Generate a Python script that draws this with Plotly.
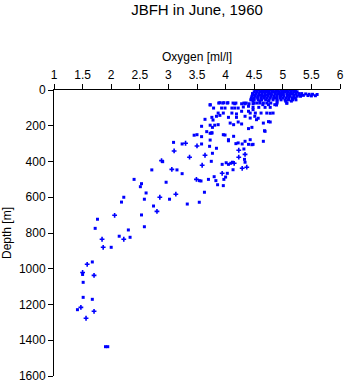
import plotly.graph_objects as go

title_text = "JBFH in June, 1960"
x_title = "Oxygen [ml/l]"
y_title = "Depth [m]"
x_ticks = [1, 1.5, 2, 2.5, 3, 3.5, 4, 4.5, 5, 5.5, 6]
x_tick_labels = ["1", "1.5", "2", "2.5", "3", "3.5", "4", "4.5", "5", "5.5", "6"]
y_ticks = [0, 200, 400, 600, 800, 1000, 1200, 1400, 1600]

# Samples drawn as squares: oxygen [ml/l], depth [m]
oxy_sq = [
    # surface cluster
    4.52, 4.58, 4.63, 4.68, 4.72, 4.77, 4.83, 4.88, 4.92, 4.97, 5.02, 5.07, 5.12, 5.18,
    4.55, 4.66, 4.74, 4.81, 4.90, 4.99, 5.05, 5.15, 5.22,
    4.50, 4.55, 4.61, 4.66, 4.71, 4.76, 4.82, 4.87, 4.93, 4.98, 5.03, 5.09, 5.14, 5.20, 5.25,
    4.47, 4.53, 4.58, 4.64, 4.69, 4.75, 4.80, 4.86, 4.91, 4.96, 5.01, 5.07, 5.12, 5.17, 5.23, 5.28, 5.33, 5.40, 5.46, 5.52, 5.60,
    4.50, 4.60, 4.70, 4.80, 4.90, 5.00, 5.10, 5.20, 5.29, 5.36, 5.44, 5.50, 5.57,
    4.46, 4.52, 4.57, 4.63, 4.68, 4.74, 4.79, 4.85, 4.90, 4.96, 5.02, 5.08, 5.13, 5.19, 5.25, 5.31,
    4.45, 4.50, 4.56, 4.62, 4.67, 4.72, 4.78, 4.84, 4.89, 4.95, 5.00, 5.06, 5.11, 5.17, 5.22,
    4.44, 4.50, 4.57, 4.63, 4.70, 4.76, 4.83, 4.90, 4.97, 5.04, 5.10, 5.17, 5.23,
    4.48, 4.60, 4.75, 4.90, 5.05, 5.15,
    # upper layer
    3.88, 3.95, 4.03, 4.13, 4.18, 4.32, 4.36, 4.50, 4.55, 4.60, 4.66, 4.72, 4.79, 4.90, 5.07,
    3.73, 3.90, 3.97, 4.04, 4.16, 4.28, 4.34, 4.41, 4.48, 4.46,
    3.79, 3.93, 3.99, 4.11, 4.16, 4.22, 4.31, 4.40,
    3.87, 3.96, 4.11, 4.19, 4.28, 4.40, 4.48,
    3.84, 3.90, 4.05, 4.19, 4.34, 4.43,
    3.58, 3.73, 3.87, 4.08, 4.14, 4.22, 4.28, 4.40, 4.46,
    3.50, 3.76, 3.96, 4.05, 4.14, 4.22, 4.34, 4.43, 4.46,
    4.65, 4.75, 4.86, 4.48, 4.58, 4.69, 4.78,
    4.43, 4.52, 4.62, 4.72, 4.83, 4.51, 4.57, 4.54, 4.66, 4.78, 4.69,
    5.07, 4.89, 4.78, 4.75, 4.68,
    3.73, 3.76, 3.77, 3.73, 3.64, 3.78, 3.81, 3.67, 3.76, 3.99, 3.58, 3.73,
    # middle layer
    3.58, 3.72, 3.84, 4.05, 4.18, 4.29, 4.40, 4.48, 4.66, 4.32, 3.77,
    3.75, 4.01, 3.94, 4.05, 4.03, 3.80, 4.00, 3.70, 3.83, 3.97, 3.86, 3.96, 3.63,
    4.33, 4.34, 4.09, 4.12, 4.13, 3.57,
    # deep samples
    3.45, 3.09, 3.24, 2.90, 2.71, 3.15, 3.24, 2.40, 3.54, 2.53, 2.96, 2.51, 2.61,
    2.22, 2.58, 3.02, 2.18, 2.74, 3.33, 3.54, 2.53, 1.76, 2.58, 1.72, 2.30,
    2.14, 2.33, 2.00, 1.67, 1.50, 1.51, 1.51, 1.67, 1.41, 1.90, 1.94,
]
depth_sq = [
    0, 0, 0, 0, 0, 0, 0, 0, 0, 0, 0, 0, 0, 0,
    5, 5, 5, 5, 5, 5, 5, 5, 5,
    10, 10, 10, 10, 10, 10, 10, 10, 10, 10, 10, 10, 10, 10, 10,
    20, 20, 20, 20, 20, 20, 20, 20, 20, 20, 20, 20, 20, 20, 20, 20, 20, 22, 24, 24, 25,
    28, 28, 28, 28, 28, 28, 28, 28, 28, 30, 31, 33, 32,
    35, 35, 35, 35, 35, 35, 35, 35, 35, 35, 35, 35, 35, 35, 35, 35,
    45, 45, 45, 45, 45, 45, 45, 45, 45, 45, 45, 45, 45, 45, 45,
    55, 55, 55, 55, 55, 55, 55, 55, 55, 55, 55, 55, 55,
    62, 62, 62, 62, 62, 62,
    73, 73, 73, 73, 73, 73, 73, 73, 73, 73, 73, 73, 73, 73, 73,
    82, 71, 71, 71, 77, 77, 77, 77, 77, 54,
    101, 101, 101, 101, 101, 101, 95, 91,
    129, 129, 129, 134, 119, 119, 110,
    147, 142, 153, 153, 147, 157,
    203, 197, 194, 185, 194, 179, 190, 216, 209,
    250, 241, 250, 278, 259, 296, 287, 278, 306,
    82, 82, 82, 97, 97, 97, 97,
    129, 129, 129, 129, 129, 147, 158, 166, 185, 179, 231,
    74, 84, 130, 177, 228,
    84, 153, 209, 242, 164, 168, 197, 233, 239, 252, 261, 280,
    302, 315, 326, 284, 300, 302, 304, 304, 287, 330, 354,
    399, 407, 416, 416, 466, 485, 487, 500, 507, 500, 530, 535, 572,
    388, 404, 410, 404, 446, 509,
    253, 293, 302, 401, 447, 447, 468, 500, 507, 524, 516, 541, 576,
    600, 611, 611, 627, 649, 638, 628, 699, 723, 765, 774, 783,
    818, 824, 880, 962, 1032, 1076, 1160, 1171, 1229, 1436, 1436,
]

# Samples drawn as crosses: oxygen [ml/l], depth [m]
oxy_cr = [
    3.30, 3.50, 3.10, 3.37, 2.88, 3.06, 3.49, 3.13, 2.85, 2.80, 2.06, 2.22, 1.84,
    1.86, 1.58, 1.50, 1.70, 1.70, 1.47, 1.56, 3.59, 3.94, 4.23, 3.64, 4.34, 4.23,
    4.15, 4.29, 4.37,
]
depth_cr = [
    298, 313, 341, 376, 395, 444, 500, 583, 600, 679, 701, 835, 835,
    880, 975, 1021, 1037, 1238, 1216, 1277, 421, 466, 337, 365, 360, 376,
    410, 438, 432,
]

FONT = "Liberation Sans, Arial, sans-serif"
BLUE = "#0000FF"

fig = go.Figure()
fig.add_trace(go.Scatter(
    x=oxy_sq, y=depth_sq, mode="markers",
    marker=dict(symbol="square", size=3, color=BLUE, line=dict(width=0)),
    showlegend=False, hoverinfo="x+y",
))
fig.add_trace(go.Scatter(
    x=oxy_cr, y=depth_cr, mode="markers",
    marker=dict(symbol="cross", size=4, color=BLUE, line=dict(width=0)),
    showlegend=False, hoverinfo="x+y",
))

fig.update_layout(
    width=345, height=384,
    margin=dict(l=54, r=5, t=90, b=8),
    paper_bgcolor="white", plot_bgcolor="white",
    font=dict(family=FONT, size=12, color="black"),
    title=dict(text=title_text, x=0.5, xref="paper", xanchor="center",
               y=1 - 10 / 384, yref="container", yanchor="middle",
               font=dict(family=FONT, size=15, color="black")),
    xaxis=dict(
        side="top", range=[1, 6], tickvals=x_ticks, ticktext=x_tick_labels,
        ticks="outside", ticklen=5, tickwidth=1, tickcolor="black",
        showline=True, linecolor="black", linewidth=1, mirror=False,
        showgrid=False, zeroline=False, automargin=False,
        title=dict(text=x_title, standoff=4, font=dict(size=12)),
        tickfont=dict(size=12),
    ),
    yaxis=dict(
        range=[1600, 0], tickvals=y_ticks,
        ticks="outside", ticklen=5, tickwidth=1, tickcolor="black",
        showline=True, linecolor="black", linewidth=1, mirror=False,
        showgrid=False, zeroline=False, automargin=False,
        title=dict(text=y_title, standoff=6, font=dict(size=12)),
        tickfont=dict(size=12),
    ),
)

fig.write_html("out.html")
